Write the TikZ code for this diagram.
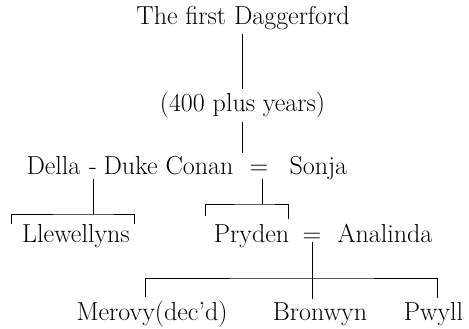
\documentclass[tikz,border=0pt]{standalone}
\usetikzlibrary{calc}

\begin{document}
\begin{tikzpicture}[x = 1pt, y = -1pt,
    kin/.style = {font = \fontsize{26}{31}\selectfont, anchor = base},
    link/.style = {line width = 1pt}]
    \useasboundingbox (0,0) rectangle (469,329);

    \node[kin] (first) at (243,25) {The first Daggerford};
    \node[kin] (years) at (242.5,112) {(400 plus years)};

    \node[kin, anchor = base west] (della) at (23,175) {Della};
    \node[kin] (dash) at (93,175) {-};
    \node[kin, anchor = base west] (conan) at (100,175) {Duke Conan};
    \node[kin] (eqa) at (259,175) {=};
    \node[kin, anchor = base west] (sonja) at (286,175) {Sonja};

    \node[kin] (llew) at (76,242) {Llewellyns};
    \node[kin] (pryden) at (251.5,242) {Pryden};
    \node[kin] (eqb) at (312,242) {=};
    \node[kin, anchor = base west] (analinda) at (334,242) {Analinda};

    \node[kin] (merovy) at (152,320) {Merovy(dec'd)};
    \node[kin] (bronwyn) at (320,320) {Bronwyn};
    \node[kin] (pwyll) at (433.5,320) {Pwyll};

    \coordinate (ja) at (93,214);
    \coordinate (jb) at (262,204);
    \coordinate (jc) at (312,278);

    \draw[link] (first.south -| years.south) -- (years.north);
    \draw[link] (years.south) -- (years.south |- conan.north);

    \draw[link] (dash.south) -- (ja);
    \draw[link] ([xshift = -7pt, yshift = -4pt]llew.north west) |- (ja) -| ([xshift = 1pt, yshift = -4pt]llew.north east);

    \draw[link] ([xshift = 3pt]eqa.south) -- (jb);
    \draw[link] ([xshift = -5pt, yshift = 4pt]pryden.north west) |- (jb) -| ([xshift = -4pt, yshift = 1pt]pryden.north east);

    \draw[link] ([yshift = 4pt]eqb.south) -- (eqb.south |- bronwyn.north);
    \draw[link] ([xshift = -7pt]merovy.north) |- (jc) -| ([xshift = 3.5pt]pwyll.north);
\end{tikzpicture}
\end{document}
